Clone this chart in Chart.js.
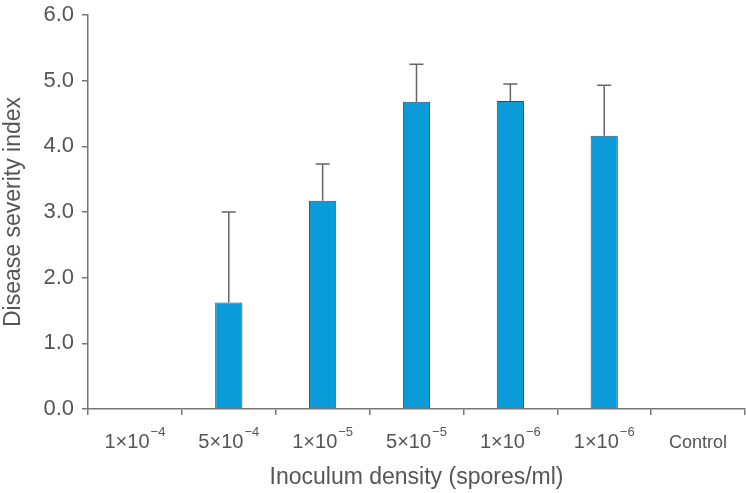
<!DOCTYPE html>
<html lang="en">
<head>
<meta charset="UTF-8">
<title>Disease severity index</title>
<script src="https://cdn.jsdelivr.net/npm/chart.js"></script>
<style>
  body { margin: 0; background: #fff; }
  #wrap { width: 746px; height: 493px; }
</style>
</head>
<body>
<div id="wrap"><canvas id="chart" width="746" height="493"></canvas></div>
<script>
// data
const categories = ['1×10^−4', '5×10^−4', '1×10^−5', '5×10^−5', '1×10^−6', '1×10^−6', 'Control'];
const severity = [0, 1.62, 3.17, 4.68, 4.69, 4.16, 0];
const errorTop = [null, 3.0, 3.73, 5.25, 4.95, 4.93, null];
const yTicks = [0, 1, 2, 3, 4, 5, 6];

const axisColor = '#777';
const textColor = '#555';
const fontFamily = 'Liberation Sans, Arial, sans-serif';

// error bars: vertical whisker + cap above each bar
const errorBars = {
  id: 'errorBars',
  afterDatasetsDraw(chart) {
    const ctx = chart.ctx;
    const x = chart.scales.x, y = chart.scales.y;
    ctx.save();
    ctx.strokeStyle = '#666';
    ctx.lineWidth = 1.5;
    errorTop.forEach((top, i) => {
      if (top === null) return;
      const px = x.getPixelForValue(i);
      const y0 = y.getPixelForValue(severity[i]);
      const y1 = y.getPixelForValue(top);
      ctx.beginPath();
      ctx.moveTo(px, y0);
      ctx.lineTo(px, y1);
      ctx.moveTo(px - 7, y1);
      ctx.lineTo(px + 7, y1);
      ctx.stroke();
    });
    ctx.restore();
  }
};

// category labels with superscript exponents
const expLabels = {
  id: 'expLabels',
  afterDraw(chart) {
    const ctx = chart.ctx;
    const x = chart.scales.x;
    const baseY = x.top + 39;
    ctx.save();
    ctx.fillStyle = textColor;
    ctx.textBaseline = 'alphabetic';
    ctx.textAlign = 'left';
    categories.forEach((lab, i) => {
      const [base, exp] = lab.split('^');
      const cx = x.getPixelForValue(i);
      const baseFont = (exp ? 20 : 18) + 'px ' + fontFamily;
      const expFont = '13px ' + fontFamily;
      ctx.font = baseFont;
      const wb = ctx.measureText(base).width;
      let we = 0;
      if (exp) { ctx.font = expFont; we = ctx.measureText(exp).width + 1; }
      let left = cx - (wb + we) / 2;
      ctx.font = baseFont;
      ctx.fillText(base, left, baseY);
      if (exp) {
        ctx.font = expFont;
        ctx.fillText(exp, left + wb + 1, baseY - 12);
      }
    });
    ctx.restore();
  }
};

new Chart(document.getElementById('chart'), {
  type: 'bar',
  data: {
    labels: categories,
    datasets: [{
      data: severity,
      backgroundColor: '#0b9bd9',
      borderColor: '#24506e',
      borderWidth: 1,
      categoryPercentage: 1,
      barPercentage: 0.29
    }]
  },
  options: {
    responsive: false,
    animation: false,
    layout: { padding: { top: 15, right: 1, left: 0, bottom: 0 } },
    plugins: { legend: { display: false }, tooltip: { enabled: false } },
    scales: {
      x: {
        offset: true,
        grid: { offset: true, drawOnChartArea: false, drawTicks: true, tickLength: 6, color: axisColor, lineWidth: 1.5 },
        border: { color: axisColor, width: 1.5 },
        ticks: { callback: () => '', maxRotation: 0, autoSkip: false },
        title: { display: true, text: 'Inoculum density (spores/ml)', color: textColor, font: { family: fontFamily, size: 23 }, padding: { top: 0, bottom: 2 } },
        afterFit(s) { s.height = 84; s.paddingLeft = 0; s.paddingRight = 0; }
      },
      y: {
        min: 0, max: 6,
        afterBuildTicks(s) { s.ticks = yTicks.map(v => ({ value: v })); },
        grid: { drawOnChartArea: false, drawTicks: true, tickLength: 6, color: axisColor, lineWidth: 1.5 },
        border: { color: axisColor, width: 1.5 },
        ticks: { color: textColor, font: { family: fontFamily, size: 22 }, padding: 8, callback: v => v.toFixed(1) },
        title: { display: true, text: 'Disease severity index', color: textColor, font: { family: fontFamily, size: 23 }, padding: { top: 0, bottom: 0 } },
        afterFit(s) { s.width = 88; s.paddingTop = 0; s.paddingBottom = 0; }
      }
    }
  },
  plugins: [errorBars, expLabels]
});
</script>
</body>
</html>
